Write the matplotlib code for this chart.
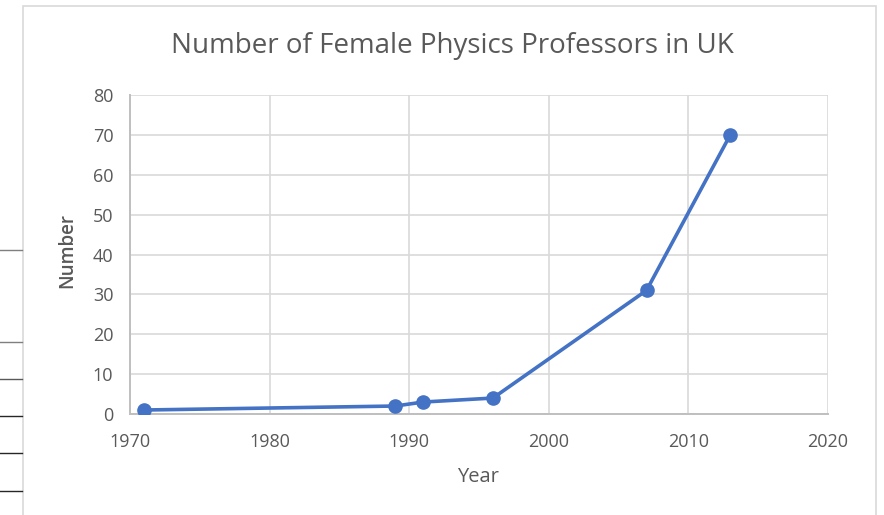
import matplotlib
matplotlib.use("Agg")
import matplotlib.pyplot as plt
from matplotlib.lines import Line2D
from matplotlib.patches import Rectangle

years = [1971, 1989, 1991, 1996, 2007, 2013]
counts = [1, 2, 3, 4, 31, 70]
x_ticks = [1970, 1980, 1990, 2000, 2010, 2020]
y_ticks = [0, 10, 20, 30, 40, 50, 60, 70, 80]
title = "Number of Female Physics Professors in UK"

plt.rcParams['font.family'] = ['Open Sans', 'DejaVu Sans']
W, H = 884, 515
fig = plt.figure(figsize=(W / 100, H / 100), dpi=100)
fig.patch.set_facecolor('white')

# chart frame
fig.add_artist(Rectangle((23 / W, -0.05), (876 - 23) / W, 1.05 - 6 / H,
                         transform=fig.transFigure, fill=False,
                         edgecolor='#d9d9d9', linewidth=1.2))
# stray lines at left edge (from screenshot)
for yy, c in [(250, '#7f7f7f'), (342, '#7f7f7f'), (379, '#595959'),
              (416, '#262626'), (453, '#262626'), (491, '#262626')]:
    fig.add_artist(Line2D([0, 22 / W], [1 - yy / H, 1 - yy / H],
                          transform=fig.transFigure, color=c, linewidth=1))

ax = fig.add_axes([130 / W, 1 - 414 / H, (828 - 130) / W, (414 - 95) / H])
ax.plot(years, counts, color='#4472C4', linewidth=2.6, marker='o',
        markersize=9.5, zorder=3)
ax.set_xlim(1970, 2020)
ax.set_ylim(0, 80)
ax.set_xticks(x_ticks)
ax.set_yticks(y_ticks)
ax.grid(True, color='#d9d9d9', linewidth=1.2)
ax.set_axisbelow(True)
for s in ['top', 'right']:
    ax.spines[s].set_visible(False)
for s in ['left', 'bottom']:
    ax.spines[s].set_color('#bfbfbf')
    ax.spines[s].set_linewidth(1.4)
ax.tick_params(length=0, labelsize=13, labelcolor='#595959')
ax.tick_params(axis='x', pad=14)
ax.tick_params(axis='y', pad=12)
ax.set_xlabel('Year', fontsize=14.5, color='#595959', va='center')
ax.set_ylabel('Number', fontsize=13.5, color='#595959', va='center',
              fontweight='semibold')
ax.xaxis.set_label_coords((478 - 130) / 698, (414 - 477) / 319)
ax.yaxis.set_label_coords((67 - 130) / 698, (414 - 251) / 319)
fig.text(452 / W, 1 - 46 / H, title, ha='center', va='center',
         fontsize=20, color='#595959')

fig.savefig('out.png', dpi=100)
